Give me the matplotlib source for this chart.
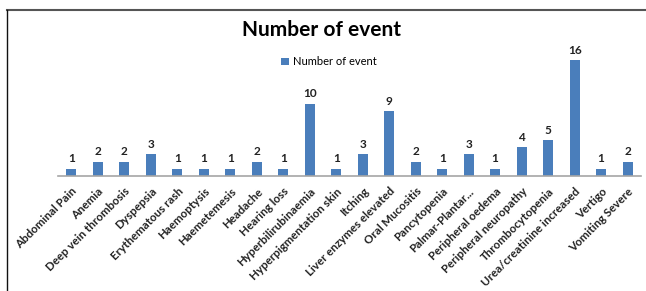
import matplotlib
matplotlib.use("Agg")
import matplotlib.pyplot as plt
from matplotlib.lines import Line2D

# Data
events = ["Abdominal Pain", "Anemia", "Deep vein thrombosis", "Dyspepsia",
          "Erythematous rash", "Haemoptysis", "Haemetemesis", "Headache",
          "Hearing loss", "Hyperbilirubinaemia", "Hyperpigmentation skin",
          "Itching", "Liver enzymes elevated", "Oral Mucositis", "Pancytopenia",
          "Palmar-Plantar...", "Peripheral oedema", "Peripheral neuropathy",
          "Thrombocytopenia", "Urea/creatinine increased", "Vertigo",
          "Vomiting Severe"]
counts = [1, 2, 2, 3, 1, 1, 1, 2, 1, 10, 1, 3, 9, 2, 1, 3, 1, 4, 5, 16, 1, 2]

plt.rcParams["font.family"] = ["Lato", "DejaVu Sans"]

fig = plt.figure(figsize=(6.46, 2.91), dpi=100)
ax = fig.add_axes([0.090, 0.395, 0.902, 0.447])

x = range(len(events))
bars = ax.bar(x, counts, width=0.38, color="#4A7EBB", label="Number of event")

for b, v in zip(bars, counts):
    ax.text(b.get_x() + b.get_width() / 2, v + 0.6, str(v), ha="center",
            va="bottom", fontsize=8.5, fontweight="bold", color="#222222")

ax.set_xlim(-0.5, len(events) - 0.5)
ax.set_ylim(0, 18)
ax.set_xticks(list(x))
ax.set_xticklabels(events, rotation=45, ha="right", rotation_mode="anchor",
                   fontsize=8.3, fontweight="bold", color="#222222")
ax.tick_params(axis="x", length=0, pad=7)
ax.set_yticks([])
for s in ["top", "right", "left"]:
    ax.spines[s].set_visible(False)
ax.spines["bottom"].set_color("#A6A6A6")
ax.spines["bottom"].set_linewidth(1.2)

fig.text(0.497, 0.897, "Number of event", ha="center", va="center",
         fontsize=15, fontweight="bold")
ax.legend(loc="center", bbox_to_anchor=(0.465, 1.0 - (62 - 46) / 130),
          frameon=False, fontsize=8, handlelength=0.7, handleheight=0.7,
          handletextpad=0.4)

# frame lines of the original picture
fig.add_artist(Line2D([7 / 646, 1], [1 - 10 / 291, 1 - 10 / 291],
                      color="#555555", lw=1.5, transform=fig.transFigure))
fig.add_artist(Line2D([7 / 646, 7 / 646], [0, 1 - 10 / 291],
                      color="#111111", lw=1.0, transform=fig.transFigure))

fig.savefig("out.png", dpi=100)
